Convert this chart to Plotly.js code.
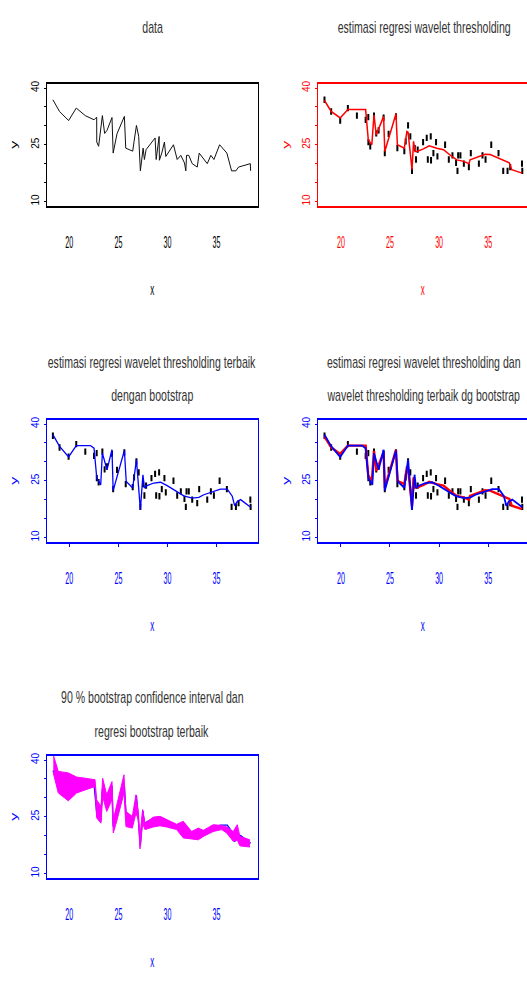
<!DOCTYPE html>
<html>
<head>
<meta charset="utf-8">
<script src="https://cdn.plot.ly/plotly-3.0.1.min.js"></script>
<style>
html,body{margin:0;padding:0;background:#fff;overflow:hidden;}
#chart{width:527px;height:992px;}
</style>
</head>
<body>
<div id="chart"></div>
<script>
// ---- observed data (x, y) ----
const xData = [18.33,19.01,19.93,20.71,21.63,22.52,22.79,22.8,22.99,23.37,23.6,23.84,24.35,24.47,24.86,25.61,25.75,26.46,26.6,26.84,27.07,27.24,27.52,27.65,27.82,28.37,28.74,28.85,29.15,29.18,29.42,29.69,29.83,30.61,30.99,31.36,31.73,31.87,31.94,32.17,32.52,33.03,33.23,34.05,34.42,34.73,35.31,36.05,36.53,36.97,37.24,38.44,38.47];
const yData = [36.9,33.8,31.4,34.7,32.7,31.6,32.3,25.7,24.6,32.7,28.0,28.8,32.2,22.8,27.9,32.5,24.1,23.3,25.9,30.1,27.2,18.1,24.1,21.1,23.7,25.7,26.8,21.1,27.2,20.9,22.8,25.7,21.9,25.0,21.1,22.2,20.2,18.1,22.2,22.2,20.0,19.1,22.8,20.0,22.2,21.1,25.0,22.8,18.1,18.1,19.1,20.0,18.1];

// ---- wavelet thresholding estimate (red) ----
const xWav = [18.33,19.01,19.93,20.71,22.52,22.79,23.15,23.37,23.6,24.35,24.47,25.61,25.75,26.46,26.72,26.84,27.24,27.4,27.55,27.75,28.4,29.0,29.75,30.45,31.3,31.8,32.5,33.05,33.15,33.85,34.7,35.2,35.9,36.55,37.15,37.4,38.45];
const yWav = [36.7,33.8,32.1,34.3,34.3,26.3,25.0,32.9,27.6,32.5,23.2,33.2,25.0,24.1,28.5,28.3,18.4,25.9,23.2,23.2,23.9,24.7,24.1,23.7,21.9,21.0,20.6,20.0,21.0,21.7,22.5,22.4,21.6,21.0,20.2,18.4,17.5];

// ---- best wavelet thresholding with bootstrap (blue) ----
const xBoot = [18.33,19.01,19.93,20.71,22.14,22.52,22.8,23.2,23.37,23.84,24.35,24.47,25.61,25.8,26.46,26.84,27.24,27.5,27.65,27.93,28.6,29.29,29.97,30.99,31.66,32.52,33.2,33.7,34.73,35.4,36.09,36.6,36.84,37.11,37.45,38.47];
const yBoot = [37.2,34.1,31.3,34.3,34.3,33.6,25.7,23.9,32.3,27.9,33.2,22.4,33.0,24.8,23.1,30.6,17.3,26.6,23.1,23.7,24.4,24.6,23.7,22.2,21.0,20.4,20.6,21.3,22.2,22.8,22.8,20.9,18.4,19.5,20.0,18.0];

// ---- 90 % bootstrap confidence interval ----
const xCI = [18.37,18.88,19.9,20.75,22.62,22.79,23.23,23.4,23.81,24.35,24.48,24.83,25.57,25.77,26.42,26.79,27.03,27.2,27.47,27.71,28.55,29.24,29.92,30.94,31.61,32.46,33.14,33.65,34.66,35.52,36.03,36.7,37.11,37.38,38.4];
const ciUpper = [41.4,37.0,36.6,35.5,34.8,29.5,27.7,35.2,30.8,34.3,24.2,28.2,36.1,26.4,25.1,30.8,26.4,19.8,26.9,23.3,24.9,25.1,24.2,23.0,23.8,21.1,22.0,21.4,22.9,22.7,22.3,21.1,22.9,19.8,18.9];
const ciLower = [36.6,31.3,29.2,31.3,33.0,24.7,23.3,30.4,26.4,29.5,20.7,23.8,31.3,22.4,22.0,26.0,24.2,16.5,23.3,21.6,22.3,22.6,22.3,21.6,19.4,19.1,18.9,19.8,21.1,21.6,20.7,18.5,18.8,17.3,17.0];

// ---- texts ----
const xTickVals = [20,25,30,35];
const xTickText = ['20','25','30','35'];
const yTickVals = [10,15,20,25,30,35,40];
const yTickText = ['10','','','25','','','40'];
const titles = [
  ['data'],
  ['estimasi regresi wavelet thresholding'],
  ['estimasi regresi wavelet thresholding terbaik','dengan bootstrap'],
  ['estimasi regresi wavelet thresholding dan','wavelet thresholding terbaik dg bootstrap'],
  ['90 % bootstrap confidence interval dan','regresi bootstrap terbaik']
];

// ---- layout geometry (pixels) ----
const W = 527, H = 992;
const FONT = 'Liberation Sans, Arial, sans-serif';
const RED = '#ff0000', BLUE = '#0000ff', BLACK = '#000000', MAG = '#ff00ff';
const colX = [[46.7, 258, 17.70, 39.22], [318.3, 527, 17.70, 38.95]];
const rowY = [[83.5, 206], [419.5, 542], [755.5, 878]];
const titleY = [[27], [362, 395], [697, 731]];
const panels = [
  {c:0, r:0, col:BLACK, tick:0},
  {c:1, r:0, col:RED, tick:0},
  {c:0, r:1, col:BLUE, tick:3},
  {c:1, r:1, col:BLUE, tick:3},
  {c:0, r:2, col:BLUE, tick:0}
];

const layout = {
  width: W, height: H,
  margin: {l:0, r:0, t:0, b:0, pad:0},
  paper_bgcolor: '#fff', plot_bgcolor: '#fff',
  showlegend: false,
  font: {family: FONT, color: BLACK},
  annotations: []
};

panels.forEach((p, i) => {
  const n = i === 0 ? '' : String(i + 1);
  const cx = colX[p.c], ry = rowY[p.r];
  layout['xaxis' + n] = {
    domain: [cx[0] / W, cx[1] / W],
    anchor: 'y' + n,
    range: [cx[2], cx[3]], autorange: false,
    showgrid: false, zeroline: false,
    showline: true, mirror: true, linecolor: p.col, linewidth: 2,
    ticks: p.tick ? 'outside' : '', ticklen: p.tick, tickwidth: 1, tickcolor: p.col,
    tickvals: xTickVals, ticktext: xTickText,
    tickfont: {family: FONT, size: 17, color: p.col},
    ticklabelstandoff: 20 - p.tick,
    title: {text: 'x', font: {family: FONT, size: 16, color: p.col}, standoff: 32}
  };
  layout['yaxis' + n] = {
    domain: [1 - ry[1] / H, 1 - ry[0] / H],
    anchor: 'x' + n,
    range: [8.8, 41.2], autorange: false,
    showgrid: false, zeroline: false,
    showline: true, mirror: p.c === 0, linecolor: p.col, linewidth: 1,
    ticks: 'outside', ticklen: 2, tickwidth: 1, tickcolor: p.col,
    tickvals: yTickVals, ticktext: yTickText, tickangle: -90,
    tickfont: {family: FONT, size: 10, color: p.col},
    ticklabelstandoff: 1,
    title: {text: 'y', font: {family: FONT, size: 16, color: p.col}, standoff: 5}
  };
  const cxMid = (cx[0] + (p.c === 0 ? cx[1] : cx[1] + 2.6)) / 2;
  titles[i].forEach((t, k) => {
    layout.annotations.push({
      text: t, xref: 'paper', yref: 'paper',
      x: cxMid / W, y: 1 - titleY[p.r][k] / H,
      xanchor: 'center', yanchor: 'middle', showarrow: false,
      font: {family: FONT, size: 16, color: '#333333'}
    });
  });
});

const dots = (xa, ya) => ({
  x: xData, y: yData, xaxis: xa, yaxis: ya, type: 'scatter', mode: 'markers',
  marker: {symbol: 'line-ns', size: 4.5, color: BLACK, line: {color: BLACK, width: 2}},
  hoverinfo: 'skip'
});
const line = (x, y, xa, ya, color, width) => ({
  x: x, y: y, xaxis: xa, yaxis: ya, type: 'scatter', mode: 'lines',
  line: {color: color, width: width}, hoverinfo: 'skip'
});

const data = [
  line(xData, yData, 'x', 'y', '#111', 1),
  dots('x2', 'y2'),
  line(xWav, yWav, 'x2', 'y2', RED, 1.5),
  dots('x3', 'y3'),
  line(xBoot, yBoot, 'x3', 'y3', BLUE, 1.3),
  dots('x4', 'y4'),
  line(xWav, yWav, 'x4', 'y4', RED, 2.4),
  line(xBoot, yBoot, 'x4', 'y4', BLUE, 1.8),
  line(xBoot, yBoot, 'x5', 'y5', BLUE, 1.3),
  {x: xCI, y: ciLower, xaxis: 'x5', yaxis: 'y5', type: 'scatter', mode: 'lines',
   line: {color: MAG, width: 1}, hoverinfo: 'skip'},
  {x: xCI, y: ciUpper, xaxis: 'x5', yaxis: 'y5', type: 'scatter', mode: 'lines',
   fill: 'tonexty', fillcolor: MAG, line: {color: MAG, width: 1}, hoverinfo: 'skip'}
];

// horizontally condense text (the reference uses a very narrow face)
function squish(el, f) {
  const r = el.getBoundingClientRect();
  if (!r.width) return;
  const m = el.parentNode.getScreenCTM();
  const cx = (r.left + r.width / 2 - m.e) / m.a;
  const old = el.getAttribute('transform') || '';
  el.setAttribute('transform', 'translate(' + cx + ',0) scale(' + f + ',1) translate(' + (-cx) + ',0) ' + old);
}

Plotly.newPlot('chart', data, layout, {staticPlot: true, displayModeBar: false}).then(gd => {
  gd.querySelectorAll('.annotation-text').forEach(e => squish(e, 0.66));
  gd.querySelectorAll('g[class^="x"][class$="tick"] text').forEach(e => squish(e, 0.42));
  gd.querySelectorAll('g[class^="g-x"][class$="title"] text').forEach(e => squish(e, 0.5));
  gd.querySelectorAll('g[class^="g-y"][class$="title"] text').forEach(e => squish(e, 0.57));
});
</script>
</body>
</html>
